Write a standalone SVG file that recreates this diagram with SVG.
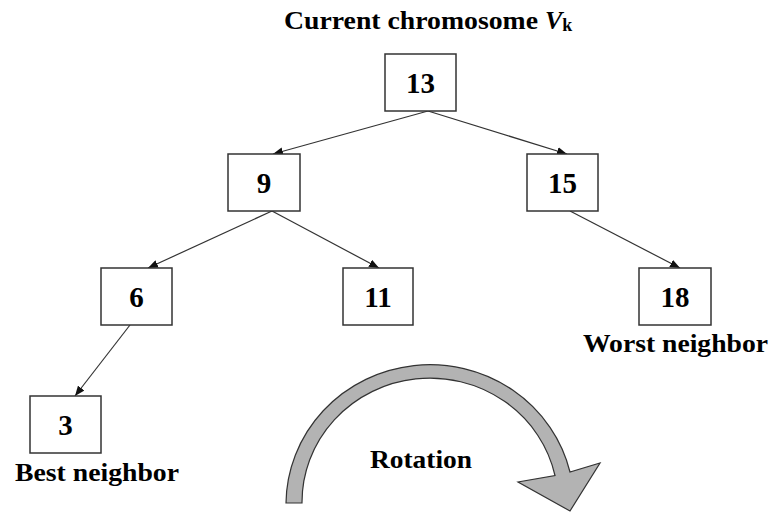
<svg xmlns="http://www.w3.org/2000/svg" width="773" height="512" viewBox="0 0 773 512">
<style>
.box{fill:#fff;stroke:#333;stroke-width:1.5}
.num{font-family:"Liberation Serif","Times New Roman",serif;font-weight:bold;font-size:29px;text-anchor:middle;fill:#000}
.lbl{font-family:"Liberation Serif","Times New Roman",serif;font-weight:bold;font-size:25px;fill:#000}
.edge{stroke:#333;stroke-width:1.2;fill:none;marker-end:url(#ah)}
</style>
<defs>
<marker id="ah" viewBox="0 0 10 8" refX="10" refY="4" markerWidth="10" markerHeight="8" markerUnits="userSpaceOnUse" orient="auto">
<path d="M0,0 L10,4 L0,8 Z" fill="#111"/>
</marker>
</defs>
<rect width="773" height="512" fill="#fff"/>
<text class="lbl" x="284" y="29" textLength="254" lengthAdjust="spacingAndGlyphs">Current chromosome</text>
<text class="lbl" x="545" y="29"><tspan font-style="italic" font-size="26">V</tspan><tspan font-size="18" dy="2">k</tspan></text>
<g id="connectors">
<line class="edge" x1="428" y1="111" x2="273" y2="154"/>
<line class="edge" x1="428" y1="111" x2="567" y2="154"/>
<line class="edge" x1="272" y1="211" x2="148" y2="268"/>
<line class="edge" x1="272" y1="211" x2="379" y2="268"/>
<line class="edge" x1="570" y1="211" x2="680" y2="268"/>
<line class="edge" x1="130" y1="325" x2="75" y2="396"/>
</g>
<g id="n13"><rect class="box" x="385" y="54" width="71" height="57"/><text class="num" x="420.5" y="92.5">13</text></g>
<g id="n9"><rect class="box" x="228" y="154" width="72" height="57"/><text class="num" x="264" y="192.5">9</text></g>
<g id="n15"><rect class="box" x="527" y="154" width="71" height="57"/><text class="num" x="562.5" y="192.5">15</text></g>
<g id="n6"><rect class="box" x="101" y="268" width="71" height="57"/><text class="num" x="136.5" y="306.5">6</text></g>
<g id="n11"><rect class="box" x="343" y="268" width="70" height="57"/><text class="num" x="378" y="306.5">11</text></g>
<g id="n18"><rect class="box" x="639" y="268" width="72" height="57"/><text class="num" x="675" y="306.5">18</text></g>
<g id="n3"><rect class="box" x="30" y="396" width="71" height="57"/><text class="num" x="65.5" y="434.5">3</text></g>
<text class="lbl" x="15" y="481" textLength="164" lengthAdjust="spacingAndGlyphs">Best neighbor</text>
<text class="lbl" x="583" y="352" textLength="185" lengthAdjust="spacingAndGlyphs">Worst neighbor</text>
<g id="rotation">
<path d="M286,503 A144,140 0 0 1 570,472 L600,463 L570,511 L518,482 L555,475.5 A128,124 0 0 0 302,503 Z" fill="#b3b3b3" stroke="#333" stroke-width="1.2" stroke-linejoin="miter"/>
<text class="lbl" x="370" y="468" textLength="102" lengthAdjust="spacingAndGlyphs">Rotation</text>
</g>
</svg>
